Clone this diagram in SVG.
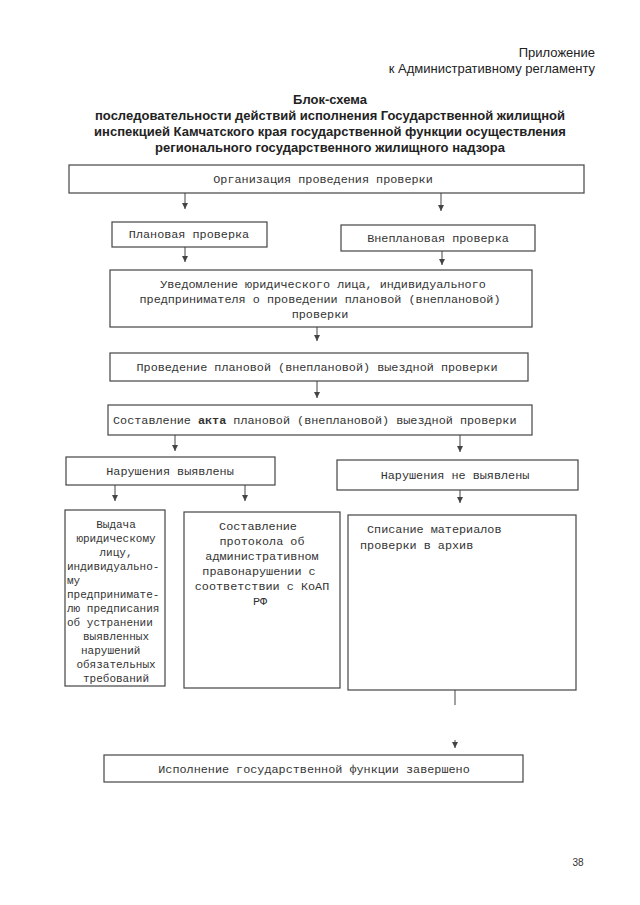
<svg xmlns="http://www.w3.org/2000/svg" width="640" height="905" viewBox="0 0 640 905">
<style>
.hdr{font-family:"Liberation Sans",Arial,sans-serif;font-size:13px;fill:#222}
.ttl{font-family:"Liberation Sans",Arial,sans-serif;font-size:13px;font-weight:bold;fill:#222;text-anchor:middle}
.box{fill:#fff;stroke:#444;stroke-width:1.2}
.t{font-family:"Liberation Mono","Courier New",monospace;font-size:11.8px;fill:#333}
.s{font-size:11px}
.c{text-anchor:middle}
.con{stroke:#444;stroke-width:1;fill:none}
</style>
<defs>
<marker id="tri" markerUnits="userSpaceOnUse" markerWidth="8" markerHeight="8" viewBox="0 0 8 8" refX="4" refY="7" orient="0">
<path d="M1,1 L7,1 L4,7 Z" fill="#444"/>
</marker>
</defs>
<rect width="640" height="905" fill="#fff"/>
<text class="hdr" x="595" y="57" text-anchor="end">Приложение</text>
<text class="hdr" x="595" y="73" text-anchor="end">к Административному регламенту</text>
<text class="ttl" x="330" y="104">Блок-схема</text>
<text class="ttl" x="330" y="120">последовательности действий исполнения Государственной жилищной</text>
<text class="ttl" x="330" y="136">инспекцией Камчатского края государственной функции осуществления</text>
<text class="ttl" x="330" y="152">регионального государственного жилищного надзора</text>

<g id="connectors">
<line class="con" x1="185" y1="193" x2="185" y2="209" marker-end="url(#tri)"/>
<line class="con" x1="441" y1="193" x2="441" y2="211" marker-end="url(#tri)"/>
<line class="con" x1="185" y1="247" x2="185" y2="262" marker-end="url(#tri)"/>
<line class="con" x1="442" y1="251" x2="442" y2="265" marker-end="url(#tri)"/>
<line class="con" x1="317" y1="327" x2="317" y2="341" marker-end="url(#tri)"/>
<line class="con" x1="317" y1="381" x2="317" y2="398" marker-end="url(#tri)"/>
<line class="con" x1="175" y1="435" x2="175" y2="451" marker-end="url(#tri)"/>
<line class="con" x1="460" y1="435" x2="460" y2="452" marker-end="url(#tri)"/>
<line class="con" x1="115" y1="485" x2="115" y2="501" marker-end="url(#tri)"/>
<line class="con" x1="245" y1="485" x2="245" y2="501" marker-end="url(#tri)"/>
<line class="con" x1="460" y1="490" x2="460" y2="503" marker-end="url(#tri)"/>
<line class="con" x1="455" y1="690" x2="455" y2="705"/>
<line class="con" x1="455" y1="740" x2="455" y2="748" marker-end="url(#tri)"/>
</g>

<g id="n1"><rect class="box" x="69" y="165" width="515" height="28"/><text class="t c" x="323" y="183">Организация проведения проверки</text></g>
<g id="n2"><rect class="box" x="112" y="222" width="155" height="25"/><text class="t c" x="189" y="238">Плановая проверка</text></g>
<g id="n3"><rect class="box" x="341" y="225" width="194" height="26"/><text class="t c" x="438" y="242">Внеплановая проверка</text></g>
<g id="n4"><rect class="box" x="110" y="270" width="422" height="57"/>
<text class="t c" x="323" y="288">Уведомление юридического лица, индивидуального</text>
<text class="t c" x="320" y="303">предпринимателя о проведении плановой (внеплановой)</text>
<text class="t c" x="320" y="318">проверки</text></g>
<g id="n5"><rect class="box" x="110" y="353" width="418" height="28"/><text class="t c" x="317" y="371">Проведение плановой (внеплановой) выездной проверки</text></g>
<g id="n6"><rect class="box" x="108" y="405" width="424" height="30"/><text class="t" x="113" y="424">Составление <tspan font-weight="bold">акта</tspan> плановой (внеплановой) выездной проверки</text></g>
<g id="n7"><rect class="box" x="66" y="457" width="209" height="28"/><text class="t c" x="170" y="475">Нарушения выявлены</text></g>
<g id="n8"><rect class="box" x="337" y="460" width="241" height="30"/><text class="t c" x="455" y="479">Нарушения не выявлены</text></g>
<g id="n9"><rect class="box" x="65" y="510" width="100" height="176"/>
<text class="t s c" x="116" y="528">Выдача</text>
<text class="t s c" x="116" y="542">юридическому</text>
<text class="t s c" x="116" y="556">лицу,</text>
<text class="t s" x="67" y="570">индивидуально-</text>
<text class="t s" x="67" y="584">му</text>
<text class="t s" x="67" y="598">предпринимате-</text>
<text class="t s" x="67" y="612">лю предписания</text>
<text class="t s" x="67" y="626">об устранении</text>
<text class="t s c" x="116" y="640">выявленных</text>
<text class="t s" x="81" y="654">нарушений</text>
<text class="t s c" x="116" y="668">обязательных</text>
<text class="t s c" x="116" y="682">требований</text>
</g>
<g id="n10"><rect class="box" x="184" y="512" width="156" height="176"/>
<text class="t c" x="258" y="530">Составление</text>
<text class="t c" x="262" y="545">протокола об</text>
<text class="t c" x="262" y="560">административном</text>
<text class="t c" x="259" y="575">правонарушении с</text>
<text class="t c" x="262" y="590">соответствии с КоАП</text>
<text class="t c" x="260" y="605">РФ</text></g>
<g id="n11"><rect class="box" x="348" y="515" width="228" height="175"/>
<text class="t" x="367" y="533">Списание материалов</text>
<text class="t" x="360" y="549">проверки в архив</text></g>
<g id="n12"><rect class="box" x="104" y="755" width="419" height="27"/><text class="t c" x="314" y="773">Исполнение государственной функции завершено</text></g>
<text x="578" y="866" font-family="Liberation Sans,Arial,sans-serif" font-size="10" fill="#333" text-anchor="middle">38</text>
</svg>
